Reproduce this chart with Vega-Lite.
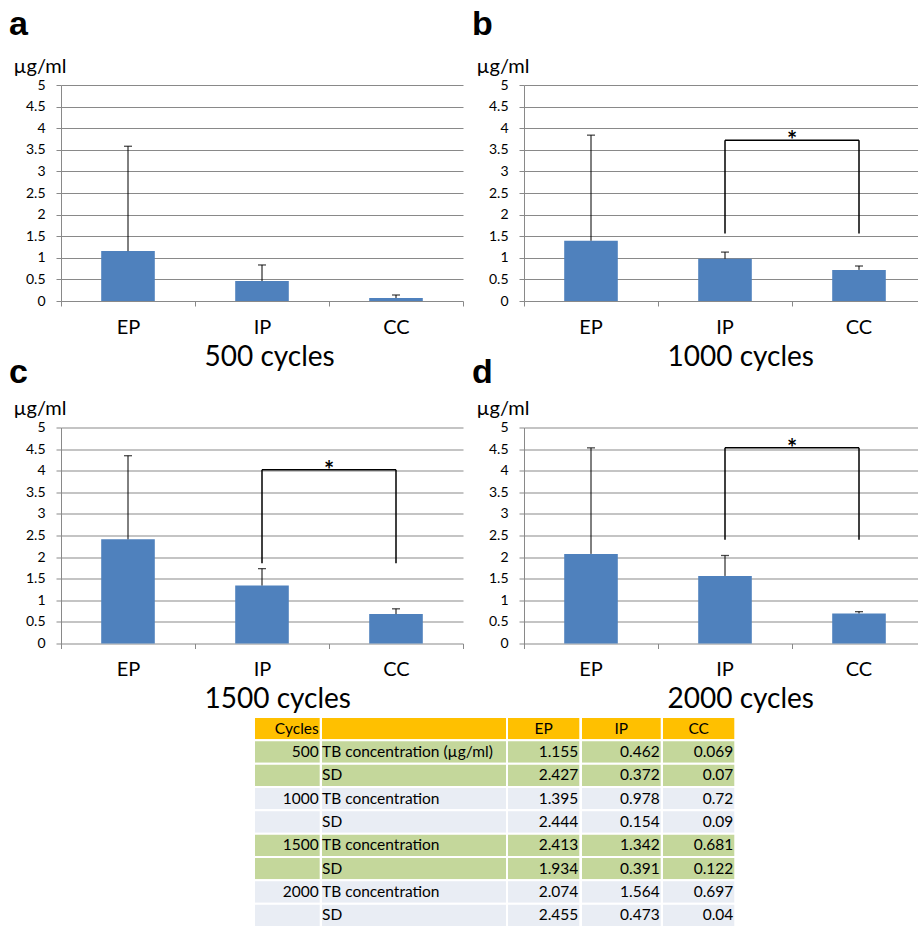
{
  "$schema": "https://vega.github.io/schema/vega-lite/v6.json",
  "padding": {"left": 9, "top": 8, "right": 0, "bottom": 0},
  "background": "#FFFFFF",
  "datasets": {
    "tb": [
      {"cycles": 500, "group": "EP", "mean": 1.155, "sd": 2.427, "top": 3.582},
      {"cycles": 500, "group": "IP", "mean": 0.462, "sd": 0.372, "top": 0.834},
      {"cycles": 500, "group": "CC", "mean": 0.069, "sd": 0.07, "top": 0.139},
      {"cycles": 1000, "group": "EP", "mean": 1.395, "sd": 2.444, "top": 3.839},
      {"cycles": 1000, "group": "IP", "mean": 0.978, "sd": 0.154, "top": 1.132},
      {"cycles": 1000, "group": "CC", "mean": 0.72, "sd": 0.09, "top": 0.81},
      {"cycles": 1500, "group": "EP", "mean": 2.413, "sd": 1.934, "top": 4.347},
      {"cycles": 1500, "group": "IP", "mean": 1.342, "sd": 0.391, "top": 1.733},
      {"cycles": 1500, "group": "CC", "mean": 0.681, "sd": 0.122, "top": 0.803},
      {"cycles": 2000, "group": "EP", "mean": 2.074, "sd": 2.455, "top": 4.529},
      {"cycles": 2000, "group": "IP", "mean": 1.564, "sd": 0.473, "top": 2.037},
      {"cycles": 2000, "group": "CC", "mean": 0.697, "sd": 0.04, "top": 0.737}
    ],
    "sig": [
      {"cycles": 1000, "from": "IP", "to": "CC", "bar": 3.72, "leg": 1.56},
      {"cycles": 1500, "from": "IP", "to": "CC", "bar": 4.02, "leg": 1.86},
      {"cycles": 2000, "from": "IP", "to": "CC", "bar": 4.53, "leg": 2.4}
    ],
    "tbl": [
      {"row": 0, "cycles": "Cycles", "item": "", "EP": "EP", "IP": "IP", "CC": "CC", "shade": "header"},
      {"row": 1, "cycles": "500", "item": "TB concentration (µg/ml)", "EP": "1.155", "IP": "0.462", "CC": "0.069", "shade": "500"},
      {"row": 2, "cycles": "", "item": "SD", "EP": "2.427", "IP": "0.372", "CC": "0.07", "shade": "500"},
      {"row": 3, "cycles": "1000", "item": "TB concentration", "EP": "1.395", "IP": "0.978", "CC": "0.72", "shade": "1000"},
      {"row": 4, "cycles": "", "item": "SD", "EP": "2.444", "IP": "0.154", "CC": "0.09", "shade": "1000"},
      {"row": 5, "cycles": "1500", "item": "TB concentration", "EP": "2.413", "IP": "1.342", "CC": "0.681", "shade": "1500"},
      {"row": 6, "cycles": "", "item": "SD", "EP": "1.934", "IP": "0.391", "CC": "0.122", "shade": "1500"},
      {"row": 7, "cycles": "2000", "item": "TB concentration", "EP": "2.074", "IP": "1.564", "CC": "0.697", "shade": "2000"},
      {"row": 8, "cycles": "", "item": "SD", "EP": "2.455", "IP": "0.473", "CC": "0.04", "shade": "2000"}
    ]
  },
  "spacing": 2,
  "vconcat": [
    {
      "spacing": -15.5,
      "vconcat": [
        {
          "spacing": 61,
          "bounds": "flush",
          "hconcat": [
            {
              "width": 402, "height": 216,
              "title": {"text": "a", "offset": 14},
              "data": {"name": "tb"},
              "transform": [{"filter": "datum.cycles == 500"}],
              "layer": [
                {"mark": {"type": "bar", "color": "#4F81BD", "width": {"band": 0.4}},
                 "encoding": {
                   "x": {"field": "group", "type": "nominal", "title": "500 cycles", "scale": {"domain": ["EP", "IP", "CC"], "paddingInner": 0, "paddingOuter": 0}, "axis": {"tickBand": "extent"}},
                   "y": {"field": "mean", "type": "quantitative", "title": "µg/ml", "scale": {"domain": [0, 5], "nice": false}}}},
                {"mark": {"type": "rule", "color": "#000000", "strokeWidth": 1},
                 "encoding": {"x": {"field": "group", "type": "nominal", "title": "500 cycles"}, "y": {"field": "mean", "type": "quantitative", "title": "µg/ml"}, "y2": {"field": "top"}}},
                {"mark": {"type": "tick", "color": "#000000", "size": 8, "thickness": 1.3},
                 "encoding": {"x": {"field": "group", "type": "nominal", "title": "500 cycles"}, "y": {"field": "top", "type": "quantitative", "title": "µg/ml"}}}
              ]
            },
            {
              "width": 393, "height": 216,
              "title": {"text": "b", "offset": 14},
              "layer": [
                {"data": {"name": "tb"}, "transform": [{"filter": "datum.cycles == 1000"}],
                 "layer": [
                  {"mark": {"type": "bar", "color": "#4F81BD", "width": {"band": 0.4}},
                   "encoding": {
                     "x": {"field": "group", "type": "nominal", "title": "1000 cycles", "scale": {"domain": ["EP", "IP", "CC"], "paddingInner": 0, "paddingOuter": 0, "range": [0, 402]}, "axis": {"bandPosition": 0, "tickExtra": false}},
                     "y": {"field": "mean", "type": "quantitative", "title": "µg/ml", "scale": {"domain": [0, 5], "nice": false}}}},
                  {"mark": {"type": "rule", "color": "#000000", "strokeWidth": 1},
                   "encoding": {"x": {"field": "group", "type": "nominal", "title": "1000 cycles"}, "y": {"field": "mean", "type": "quantitative", "title": "µg/ml"}, "y2": {"field": "top"}}},
                  {"mark": {"type": "tick", "color": "#000000", "size": 8, "thickness": 1.3},
                   "encoding": {"x": {"field": "group", "type": "nominal", "title": "1000 cycles"}, "y": {"field": "top", "type": "quantitative", "title": "µg/ml"}}}
                 ]},
                {"data": {"name": "sig"}, "transform": [{"filter": "datum.cycles == 1000"}],
                 "layer": [
                  {"mark": {"type": "rule", "color": "#000000", "strokeWidth": 1.5},
                   "encoding": {"x": {"field": "from", "type": "nominal", "title": "1000 cycles"}, "x2": {"field": "to"}, "y": {"field": "bar", "type": "quantitative", "title": "µg/ml"}}},
                  {"mark": {"type": "rule", "color": "#000000", "strokeWidth": 1.5},
                   "encoding": {"x": {"field": "from", "type": "nominal", "title": "1000 cycles"}, "y": {"field": "leg", "type": "quantitative", "title": "µg/ml"}, "y2": {"field": "bar"}}},
                  {"mark": {"type": "rule", "color": "#000000", "strokeWidth": 1.5},
                   "encoding": {"x": {"field": "to", "type": "nominal", "title": "1000 cycles"}, "y": {"field": "leg", "type": "quantitative", "title": "µg/ml"}, "y2": {"field": "bar"}}},
                  {"mark": {"type": "text", "text": "*", "font": "Lato", "fontSize": 24, "fontWeight": "bold", "baseline": "alphabetic", "dy": 9, "color": "#000000"},
                   "encoding": {"x": {"field": "to", "type": "nominal", "bandPosition": 0, "title": "1000 cycles"}, "y": {"field": "bar", "type": "quantitative", "title": "µg/ml"}}}
                 ]}
              ]
            }
          ]
        },
        {
          "spacing": 61,
          "bounds": "flush",
          "hconcat": [
            {
              "width": 402, "height": 216,
              "title": {"text": "c", "offset": 8.5},
              "layer": [
                {"data": {"name": "tb"}, "transform": [{"filter": "datum.cycles == 1500"}],
                 "layer": [
                  {"mark": {"type": "bar", "color": "#4F81BD", "width": {"band": 0.4}},
                   "encoding": {
                     "x": {"field": "group", "type": "nominal", "title": "1500 cycles", "scale": {"domain": ["EP", "IP", "CC"], "paddingInner": 0, "paddingOuter": 0}, "axis": {"tickBand": "extent"}},
                     "y": {"field": "mean", "type": "quantitative", "title": "µg/ml", "scale": {"domain": [0, 5], "nice": false}}}},
                  {"mark": {"type": "rule", "color": "#000000", "strokeWidth": 1},
                   "encoding": {"x": {"field": "group", "type": "nominal", "title": "1500 cycles"}, "y": {"field": "mean", "type": "quantitative", "title": "µg/ml"}, "y2": {"field": "top"}}},
                  {"mark": {"type": "tick", "color": "#000000", "size": 8, "thickness": 1.3},
                   "encoding": {"x": {"field": "group", "type": "nominal", "title": "1500 cycles"}, "y": {"field": "top", "type": "quantitative", "title": "µg/ml"}}}
                 ]},
                {"data": {"name": "sig"}, "transform": [{"filter": "datum.cycles == 1500"}],
                 "layer": [
                  {"mark": {"type": "rule", "color": "#000000", "strokeWidth": 1.5},
                   "encoding": {"x": {"field": "from", "type": "nominal", "title": "1500 cycles"}, "x2": {"field": "to"}, "y": {"field": "bar", "type": "quantitative", "title": "µg/ml"}}},
                  {"mark": {"type": "rule", "color": "#000000", "strokeWidth": 1.5},
                   "encoding": {"x": {"field": "from", "type": "nominal", "title": "1500 cycles"}, "y": {"field": "leg", "type": "quantitative", "title": "µg/ml"}, "y2": {"field": "bar"}}},
                  {"mark": {"type": "rule", "color": "#000000", "strokeWidth": 1.5},
                   "encoding": {"x": {"field": "to", "type": "nominal", "title": "1500 cycles"}, "y": {"field": "leg", "type": "quantitative", "title": "µg/ml"}, "y2": {"field": "bar"}}},
                  {"mark": {"type": "text", "text": "*", "font": "Lato", "fontSize": 24, "fontWeight": "bold", "baseline": "alphabetic", "dy": 9, "color": "#000000"},
                   "encoding": {"x": {"field": "to", "type": "nominal", "bandPosition": 0, "title": "1500 cycles"}, "y": {"field": "bar", "type": "quantitative", "title": "µg/ml"}}}
                 ]}
              ]
            },
            {
              "width": 393, "height": 216,
              "title": {"text": "d", "offset": 8.5},
              "layer": [
                {"data": {"name": "tb"}, "transform": [{"filter": "datum.cycles == 2000"}],
                 "layer": [
                  {"mark": {"type": "bar", "color": "#4F81BD", "width": {"band": 0.4}},
                   "encoding": {
                     "x": {"field": "group", "type": "nominal", "title": "2000 cycles", "scale": {"domain": ["EP", "IP", "CC"], "paddingInner": 0, "paddingOuter": 0, "range": [0, 402]}, "axis": {"bandPosition": 0, "tickExtra": false}},
                     "y": {"field": "mean", "type": "quantitative", "title": "µg/ml", "scale": {"domain": [0, 5], "nice": false}}}},
                  {"mark": {"type": "rule", "color": "#000000", "strokeWidth": 1},
                   "encoding": {"x": {"field": "group", "type": "nominal", "title": "2000 cycles"}, "y": {"field": "mean", "type": "quantitative", "title": "µg/ml"}, "y2": {"field": "top"}}},
                  {"mark": {"type": "tick", "color": "#000000", "size": 8, "thickness": 1.3},
                   "encoding": {"x": {"field": "group", "type": "nominal", "title": "2000 cycles"}, "y": {"field": "top", "type": "quantitative", "title": "µg/ml"}}}
                 ]},
                {"data": {"name": "sig"}, "transform": [{"filter": "datum.cycles == 2000"}],
                 "layer": [
                  {"mark": {"type": "rule", "color": "#000000", "strokeWidth": 1.5},
                   "encoding": {"x": {"field": "from", "type": "nominal", "title": "2000 cycles"}, "x2": {"field": "to"}, "y": {"field": "bar", "type": "quantitative", "title": "µg/ml"}}},
                  {"mark": {"type": "rule", "color": "#000000", "strokeWidth": 1.5},
                   "encoding": {"x": {"field": "from", "type": "nominal", "title": "2000 cycles"}, "y": {"field": "leg", "type": "quantitative", "title": "µg/ml"}, "y2": {"field": "bar"}}},
                  {"mark": {"type": "rule", "color": "#000000", "strokeWidth": 1.5},
                   "encoding": {"x": {"field": "to", "type": "nominal", "title": "2000 cycles"}, "y": {"field": "leg", "type": "quantitative", "title": "µg/ml"}, "y2": {"field": "bar"}}},
                  {"mark": {"type": "text", "text": "*", "font": "Lato", "fontSize": 24, "fontWeight": "bold", "baseline": "alphabetic", "dy": 9, "color": "#000000"},
                   "encoding": {"x": {"field": "to", "type": "nominal", "bandPosition": 0, "title": "2000 cycles"}, "y": {"field": "bar", "type": "quantitative", "title": "µg/ml"}}}
                 ]}
              ]
            }
          ]
        }
      ]
    },
    {
      "spacing": 0,
      "bounds": "flush",
      "hconcat": [
        {"width": 193, "height": 210, "view": {"fill": "#FFFFFF", "stroke": null}, "data": {"values": []}, "mark": {"type": "rect", "opacity": 0}},
        {
          "width": 66.7, "height": 210, "data": {"name": "tbl"},
          "encoding": {"y": {"field": "row", "type": "ordinal", "axis": null, "scale": {"paddingInner": 0, "paddingOuter": 0}}},
          "layer": [
            {"mark": {"type": "rect", "stroke": "#FFFFFF", "strokeWidth": 2},
             "encoding": {"color": {"field": "shade", "type": "nominal", "legend": null, "scale": {"domain": ["header", "500", "1000", "1500", "2000"], "range": ["#FFC000", "#C4D79B", "#E9EDF4", "#C4D79B", "#E9EDF4"]}}}},
            {"mark": {"type": "text", "align": "right", "baseline": "middle", "x": "width", "dx": -2, "font": "Lato", "fontSize": 15.5, "color": "#000000"},
             "encoding": {"text": {"field": "cycles"}}}
          ]
        },
        {
          "width": 186, "height": 210, "data": {"name": "tbl"},
          "encoding": {"y": {"field": "row", "type": "ordinal", "axis": null, "scale": {"paddingInner": 0, "paddingOuter": 0}}},
          "layer": [
            {"mark": {"type": "rect", "stroke": "#FFFFFF", "strokeWidth": 2},
             "encoding": {"color": {"field": "shade", "type": "nominal", "legend": null, "scale": {"domain": ["header", "500", "1000", "1500", "2000"], "range": ["#FFC000", "#C4D79B", "#E9EDF4", "#C4D79B", "#E9EDF4"]}}}},
            {"mark": {"type": "text", "align": "left", "baseline": "middle", "x": 0, "dx": 1, "font": "Lato", "fontSize": 15.5, "color": "#000000"},
             "encoding": {"text": {"field": "item"}}}
          ]
        },
        {
          "width": 73.3, "height": 210, "data": {"name": "tbl"},
          "encoding": {"y": {"field": "row", "type": "ordinal", "axis": null, "scale": {"paddingInner": 0, "paddingOuter": 0}}},
          "layer": [
            {"mark": {"type": "rect", "stroke": "#FFFFFF", "strokeWidth": 2},
             "encoding": {"color": {"field": "shade", "type": "nominal", "legend": null, "scale": {"domain": ["header", "500", "1000", "1500", "2000"], "range": ["#FFC000", "#C4D79B", "#E9EDF4", "#C4D79B", "#E9EDF4"]}}}},
            {"transform": [{"filter": "datum.row > 0"}],
             "mark": {"type": "text", "align": "right", "baseline": "middle", "x": "width", "dx": -2, "font": "Lato", "fontSize": 15.5, "color": "#000000"},
             "encoding": {"text": {"field": "EP"}}},
            {"transform": [{"filter": "datum.row == 0"}],
             "mark": {"type": "text", "align": "center", "baseline": "middle", "font": "Lato", "fontSize": 15.5, "color": "#000000"},
             "encoding": {"text": {"field": "EP"}}}
          ]
        },
        {
          "width": 80.7, "height": 210, "data": {"name": "tbl"},
          "encoding": {"y": {"field": "row", "type": "ordinal", "axis": null, "scale": {"paddingInner": 0, "paddingOuter": 0}}},
          "layer": [
            {"mark": {"type": "rect", "stroke": "#FFFFFF", "strokeWidth": 2},
             "encoding": {"color": {"field": "shade", "type": "nominal", "legend": null, "scale": {"domain": ["header", "500", "1000", "1500", "2000"], "range": ["#FFC000", "#C4D79B", "#E9EDF4", "#C4D79B", "#E9EDF4"]}}}},
            {"transform": [{"filter": "datum.row > 0"}],
             "mark": {"type": "text", "align": "right", "baseline": "middle", "x": "width", "dx": -2, "font": "Lato", "fontSize": 15.5, "color": "#000000"},
             "encoding": {"text": {"field": "IP"}}},
            {"transform": [{"filter": "datum.row == 0"}],
             "mark": {"type": "text", "align": "center", "baseline": "middle", "font": "Lato", "fontSize": 15.5, "color": "#000000"},
             "encoding": {"text": {"field": "IP"}}}
          ]
        },
        {
          "width": 73.3, "height": 210, "data": {"name": "tbl"},
          "encoding": {"y": {"field": "row", "type": "ordinal", "axis": null, "scale": {"paddingInner": 0, "paddingOuter": 0}}},
          "layer": [
            {"mark": {"type": "rect", "stroke": "#FFFFFF", "strokeWidth": 2},
             "encoding": {"color": {"field": "shade", "type": "nominal", "legend": null, "scale": {"domain": ["header", "500", "1000", "1500", "2000"], "range": ["#FFC000", "#C4D79B", "#E9EDF4", "#C4D79B", "#E9EDF4"]}}}},
            {"transform": [{"filter": "datum.row > 0"}],
             "mark": {"type": "text", "align": "right", "baseline": "middle", "x": "width", "dx": -2, "font": "Lato", "fontSize": 15.5, "color": "#000000"},
             "encoding": {"text": {"field": "CC"}}},
            {"transform": [{"filter": "datum.row == 0"}],
             "mark": {"type": "text", "align": "center", "baseline": "middle", "font": "Lato", "fontSize": 15.5, "color": "#000000"},
             "encoding": {"text": {"field": "CC"}}}
          ]
        }
      ]
    }
  ],
  "config": {
    "view": {"stroke": null},
    "title": {"anchor": "start", "frame": "group", "orient": "top", "dx": -52, "font": "Liberation Sans", "fontSize": 34, "fontWeight": "bold", "color": "#000000", "baseline": "alphabetic"},
    "axis": {"labelFont": "Lato", "titleFont": "Lato", "labelColor": "#000000", "titleColor": "#000000", "domainColor": "#898989", "tickColor": "#898989", "gridColor": "#898989", "tickSize": 5, "titleFontWeight": "normal", "labelFontWeight": "normal"},
    "axisX": {"labelFontSize": 20, "labelPadding": 11, "labelAngle": 0, "grid": false, "domain": false, "titleFontSize": 28, "titleX": 143, "titleY": 64, "titleAlign": "left", "titleBaseline": "alphabetic"},
    "axisY": {"labelFontSize": 14, "labelPadding": 11, "grid": true, "domain": true, "tickCount": 10, "format": ".1~f", "labelOverlap": false, "titleAngle": 0, "titleAlign": "left", "titleBaseline": "alphabetic", "titleX": -48, "titleY": -13, "titleFontSize": 20}
  }
}
